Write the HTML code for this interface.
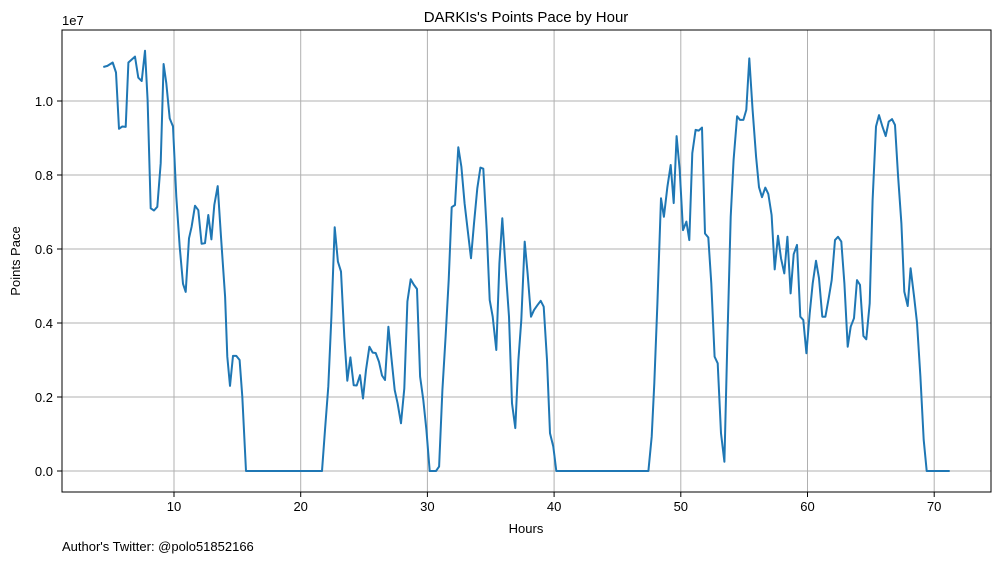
<!DOCTYPE html>
<html><head><meta charset="utf-8"><style>
html,body{margin:0;padding:0;background:#fff;}
svg{display:block;font-family:"Liberation Sans","DejaVu Sans",sans-serif;}
</style></head><body>
<svg id="chart" width="1001" height="562" viewBox="0 0 1001 562" xmlns="http://www.w3.org/2000/svg">
<rect x="0" y="0" width="1001" height="562" fill="#fff"/>
<g id="grid"></g>
<g id="ticks"></g>
<path id="line" fill="none" stroke="#1f77b4" stroke-width="2" stroke-linejoin="round"/>
<rect x="62" y="30" width="929" height="462" fill="none" stroke="#000" stroke-width="1"/>
<text x="526" y="22" text-anchor="middle" font-size="15">DARKIs's Points Pace by Hour</text>
<text x="62" y="25" font-size="13">1e7</text>
<text transform="translate(20,261) rotate(-90)" text-anchor="middle" font-size="13">Points Pace</text>
<text x="526" y="533" text-anchor="middle" font-size="13">Hours</text>
<text x="62" y="551" font-size="13">Author's Twitter: @polo51852166</text>
</svg>
<script>
const hours = [4.42,4.74,5.16,5.42,5.66,5.92,6.19,6.40,6.92,7.18,7.45,7.71,7.92,8.16,8.42,8.68,8.95,9.18,9.39,9.66,9.92,10.18,10.45,10.71,10.92,11.18,11.39,11.66,11.92,12.18,12.45,12.71,12.95,13.18,13.45,13.71,14.03,14.21,14.42,14.66,14.92,15.18,15.39,15.68,
21.68,21.92,22.18,22.42,22.68,22.94,23.18,23.44,23.68,23.92,24.18,24.42,24.68,24.92,25.15,25.42,25.68,25.92,26.18,26.42,26.65,26.92,27.15,27.42,27.65,27.92,28.18,28.42,28.68,28.92,29.18,29.42,29.68,29.92,30.18,30.44,30.68,30.92,31.18,31.44,31.68,31.92,32.18,32.44,32.68,32.94,33.18,33.44,33.68,33.94,34.18,34.41,34.68,34.92,35.15,35.44,35.68,35.91,36.18,36.44,36.68,36.94,37.18,37.41,37.68,37.91,38.18,38.41,38.68,38.94,39.18,39.44,39.68,39.94,40.17,
47.44,47.70,47.91,48.15,48.44,48.67,48.94,49.20,49.44,49.67,49.91,50.17,50.44,50.67,50.91,51.17,51.41,51.67,51.91,52.17,52.41,52.67,52.91,53.17,53.44,53.67,53.94,54.17,54.44,54.67,54.94,55.17,55.41,55.67,55.94,56.17,56.41,56.67,56.91,57.17,57.41,57.67,57.91,58.17,58.41,58.67,58.91,59.17,59.43,59.67,59.91,60.17,60.41,60.67,60.91,61.17,61.41,61.67,61.91,62.17,62.41,62.67,62.91,63.17,63.41,63.67,63.91,64.14,64.41,64.64,64.91,65.14,65.41,65.64,65.91,66.17,66.41,66.67,66.91,67.14,67.41,67.64,67.91,68.14,68.41,68.64,68.91,69.17,69.41,71.22];
const pace = [1.092,1.095,1.104,1.077,0.925,0.931,0.930,1.104,1.120,1.063,1.054,1.136,1.003,0.710,0.704,0.714,0.832,1.100,1.048,0.953,0.931,0.741,0.606,0.506,0.484,0.629,0.660,0.717,0.705,0.614,0.616,0.692,0.626,0.719,0.770,0.633,0.471,0.309,0.230,0.311,0.311,0.300,0.201,0,
0,0.111,0.228,0.417,0.659,0.566,0.539,0.363,0.244,0.307,0.232,0.231,0.259,0.196,0.273,0.336,0.320,0.319,0.295,0.258,0.246,0.390,0.309,0.219,0.183,0.129,0.223,0.458,0.518,0.504,0.492,0.255,0.192,0.111,0,0,0,0.012,0.219,0.363,0.516,0.713,0.719,0.875,0.822,0.723,0.651,0.575,0.669,0.764,0.820,0.817,0.651,0.462,0.417,0.327,0.561,0.683,0.543,0.417,0.183,0.116,0.300,0.408,0.620,0.534,0.417,0.435,0.448,0.460,0.444,0.300,0.102,0.066,0,
0,0.093,0.237,0.453,0.737,0.687,0.768,0.827,0.724,0.905,0.814,0.651,0.674,0.624,0.859,0.922,0.920,0.928,0.642,0.631,0.507,0.309,0.291,0.102,0.025,0.345,0.687,0.841,0.959,0.949,0.949,0.976,1.115,0.976,0.849,0.767,0.740,0.766,0.749,0.692,0.545,0.636,0.575,0.534,0.633,0.480,0.586,0.611,0.417,0.408,0.318,0.426,0.507,0.568,0.521,0.417,0.417,0.467,0.516,0.624,0.633,0.620,0.507,0.336,0.390,0.413,0.516,0.503,0.365,0.356,0.453,0.732,0.931,0.962,0.931,0.905,0.944,0.951,0.935,0.800,0.669,0.485,0.446,0.548,0.471,0.401,0.255,0.084,0,0];
const xTicks = [10,20,30,40,50,60,70];
const yTicks = [0,0.2,0.4,0.6,0.8,1.0];
const yTickLabels = ["0.0","0.2","0.4","0.6","0.8","1.0"];

const X0=62,X1=991,Y0=30,Y1=492;
function xs(h){return 174+(h-10)*12.67;}
function ys(v){return 471-v*370;}
const NS="http://www.w3.org/2000/svg";
const grid=document.getElementById('grid'), ticks=document.getElementById('ticks');
function mk(tag,attrs,parent){const e=document.createElementNS(NS,tag);for(const k in attrs)e.setAttribute(k,attrs[k]);parent.appendChild(e);return e;}
xTicks.forEach(t=>{
  const x=xs(t);
  const g=mk('line',{x1:x,x2:x,y1:Y0,y2:Y1,stroke:'#b0b0b0','stroke-width':1},grid);
  
  
  const tk=mk('line',{x1:x,x2:x,y1:Y1,y2:Y1+5,stroke:'#000','stroke-width':1},ticks);
  
  
  const tl=mk('text',{x:x,y:Y1+19,'text-anchor':'middle','font-size':13},ticks);
  tl.textContent=String(t);
  
  
});
yTicks.forEach((t,i)=>{
  const y=ys(t);
  const g=mk('line',{x1:X0,x2:X1,y1:y,y2:y,stroke:'#b0b0b0','stroke-width':1},grid);
  
  
  const tk=mk('line',{x1:X0-5,x2:X0,y1:y,y2:y,stroke:'#000','stroke-width':1},ticks);
  
  
  const tl=mk('text',{x:X0-9,y:y+5,'text-anchor':'end','font-size':13},ticks);
  tl.textContent=yTickLabels[i];
  
  
});
document.getElementById('line').setAttribute('d',hours.map((h,i)=>(i?'L':'M')+xs(h).toFixed(1)+','+ys(pace[i]).toFixed(1)).join(''));
</script>
</body></html>
